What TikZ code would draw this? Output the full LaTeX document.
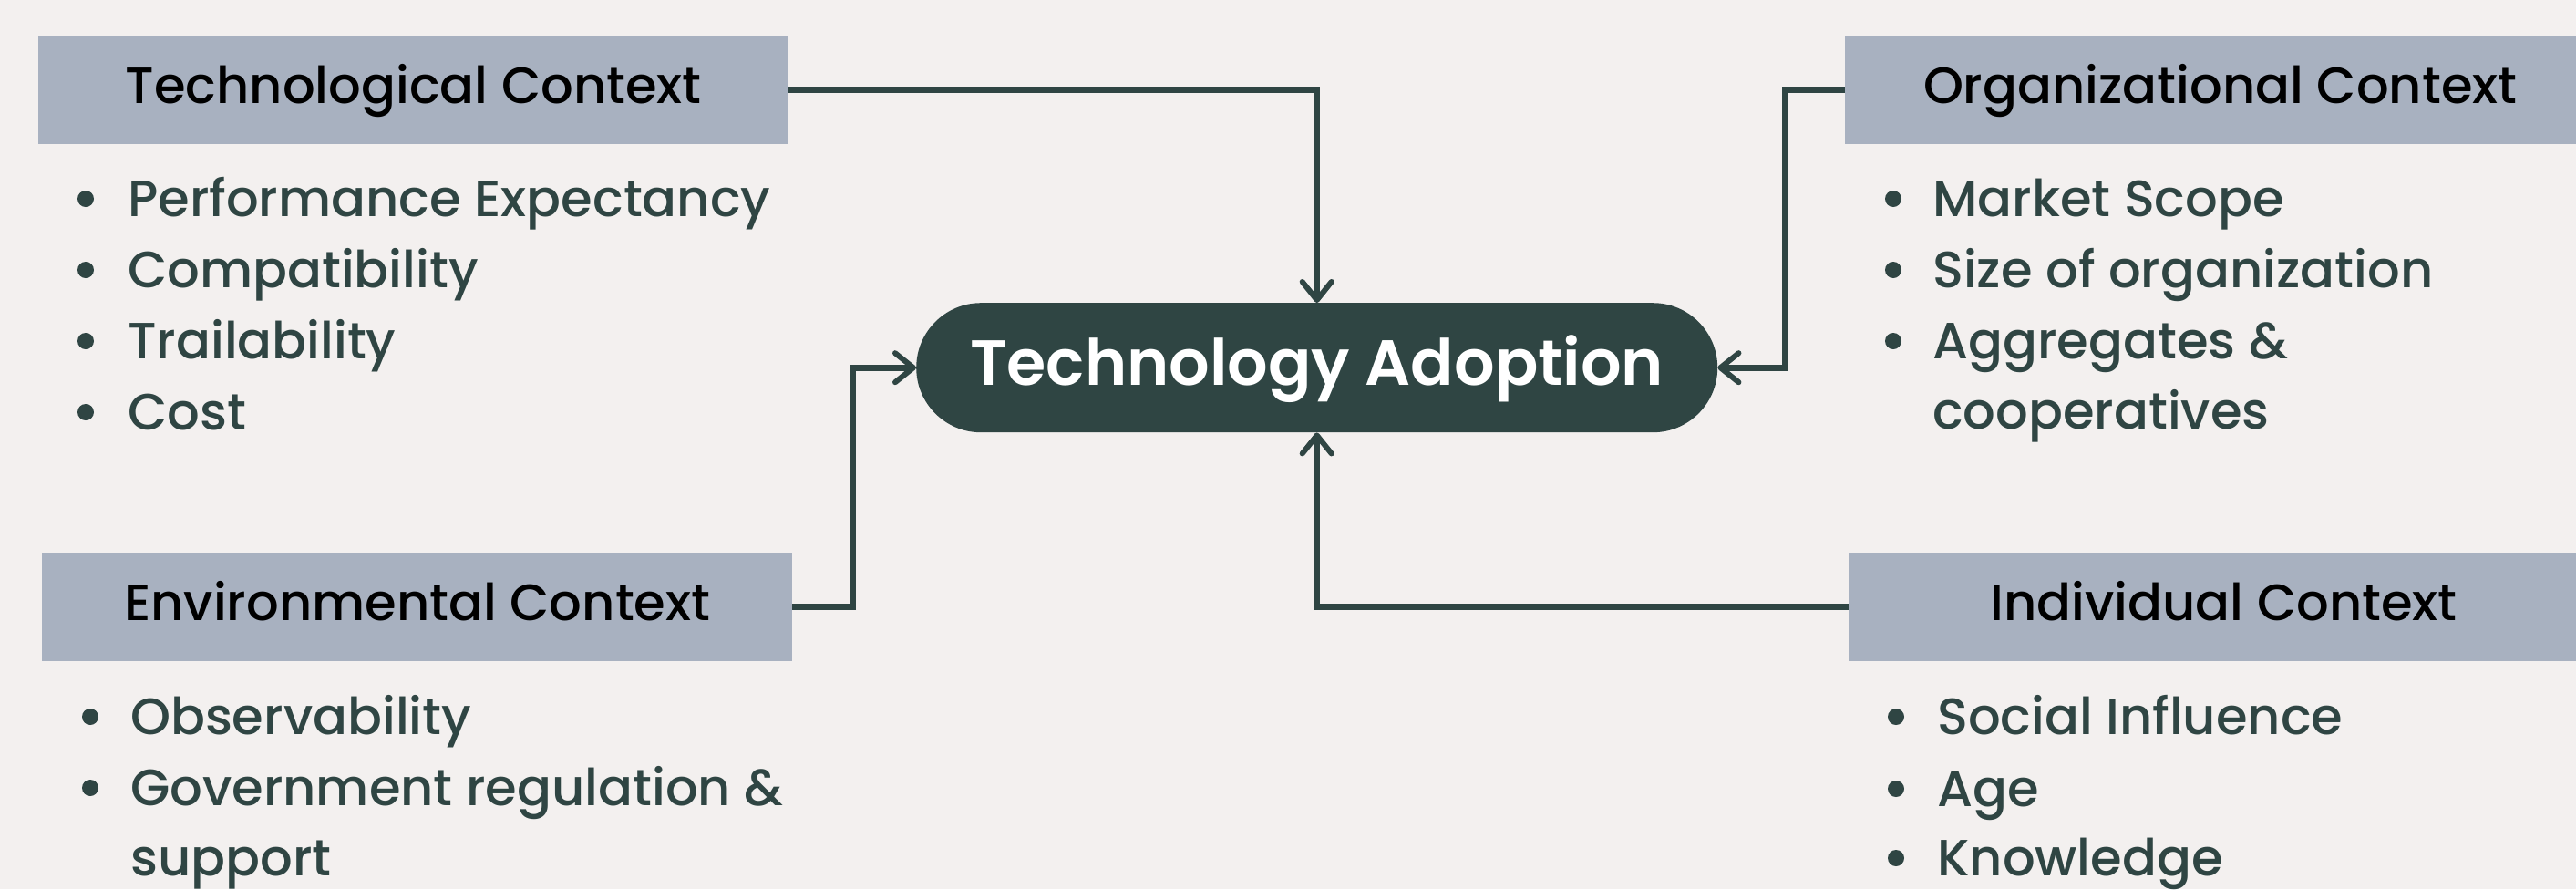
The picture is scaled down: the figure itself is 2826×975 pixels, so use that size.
\documentclass[tikz,border=0pt]{standalone}
\usepackage{fontspec}
\setmainfont{Poppins Medium}[BoldFont={Poppins SemiBold}]
\usetikzlibrary{arrows.meta}
\definecolor{bgc}{HTML}{F3F0EF}
\definecolor{boxc}{HTML}{A8B1C0}
\definecolor{darkc}{HTML}{2F4543}
\tikzset{
  ctxbox/.style={fill=boxc, draw=none, inner sep=0pt, minimum width=823pt,
    text height=74pt, text depth=45pt, font=\fontsize{56}{60}\selectfont, text=black, anchor=north west},
  pill/.style={fill=darkc, draw=none, rounded corners=71pt, inner sep=0pt, minimum width=879pt,
    text height=90pt, text depth=52pt, font=\fontsize{70}{80}\selectfont\bfseries, text=white, anchor=north west},
  itemtext/.style={anchor=base west, inner sep=0pt, font=\fontsize{56}{60}\selectfont, text=darkc},
  bul/.style={circle, fill=darkc, inner sep=0pt, minimum size=18pt},
  conn/.style={draw=darkc, line width=7pt, -{Straight Barb[length=20pt,width=32pt,line width=6pt,round]}}
}
\begin{document}
\begin{tikzpicture}[x=1pt,y=-1pt]
\useasboundingbox (0,0) rectangle (2826,975);
\fill[bgc] (0,0) rectangle (2826,975);
\clip (0,0) rectangle (2826,975);

\node[ctxbox] (tech) at (42,39) {Technological Context};
\node[ctxbox] (org) at (2024,39) {Organizational Context};
\node[ctxbox] (env) at (46,606) {Environmental Context};
\node[ctxbox] (ind) at (2028,606) {Individual Context};

\node[pill] (adopt) at (1005,332) {Technology Adoption};

% Technological items
\node[itemtext] (t1) at (140,237) {Performance Expectancy};
\node[itemtext] (t2) at (140,315) {Compatibility};
\node[itemtext] (t3) at (140,393) {Trailability};
\node[itemtext] (t4) at (140,471) {Cost};
\foreach \y/\n in {237/tb1,315/tb2,393/tb3,471/tb4}{\node[bul] (\n) at (94,\y-19) {};}

% Organizational items
\node[itemtext] (o1) at (2120,237) {Market Scope};
\node[itemtext] (o2) at (2120,315) {Size of organization};
\node[itemtext] (o3) at (2120,393) {Aggregates \&};
\node[itemtext] (o4) at (2120,470) {cooperatives};
\foreach \y/\n in {237/ob1,315/ob2,393/ob3}{\node[bul] (\n) at (2077,\y-19) {};}

% Environmental items
\node[itemtext] (e1) at (143,805) {Observability};
\node[itemtext] (e2) at (143,883) {Government regulation \&};
\node[itemtext] (e3) at (143,960) {support};
\foreach \y/\n in {805/eb1,883/eb2}{\node[bul] (\n) at (99,\y-19) {};}

% Individual items
\node[itemtext] (i1) at (2125,805) {Social Influence};
\node[itemtext] (i2) at (2125,884) {Age};
\node[itemtext] (i3) at (2125,960) {Knowledge};
\foreach \y/\n in {805/ib1,884/ib2,960/ib3}{\node[bul] (\n) at (2080,\y-19) {};}

% Connectors
\draw[conn] (tech.east) -| (adopt.north);
\draw[conn] (env.east) -- ++(66,0) |- (adopt.west);
\draw[conn] (org.west) -- ++(-66,0) |- (adopt.east);
\draw[conn] (ind.west) -| (adopt.south);
\end{tikzpicture}
\end{document}
